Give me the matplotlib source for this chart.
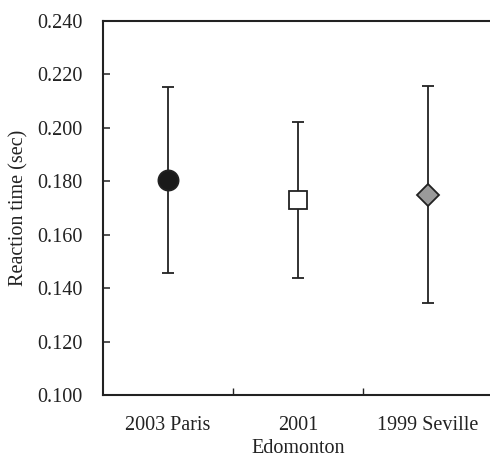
import matplotlib
matplotlib.use("Agg")
import matplotlib.pyplot as plt
from matplotlib.ticker import FixedLocator, FormatStrFormatter

plt.rcParams['font.family'] = ['Liberation Serif', 'DejaVu Serif']

# mean reaction time and spread per championship
events = ["2003 Paris", "2001\nEdomonton", "1999 Seville"]
mean_rt = [0.1805, 0.173, 0.175]
sd_rt = [0.0348, 0.0291, 0.0406]
markers = ["o", "s", "D"]
fills = ["#1a1a1a", "white", "#9a9a9a"]
sizes = [14.5, 13.5, 11]

fig = plt.figure(figsize=(4.9, 4.57), dpi=100)
ax = fig.add_axes([0.2102, 0.1357, 0.796, 0.8183])

for i in range(len(events)):
    ax.errorbar(i, mean_rt[i], yerr=sd_rt[i], fmt=markers[i], ms=sizes[i],
                mfc=fills[i], mec="#222222", mew=1.3, ecolor="#222222",
                elinewidth=1.3, capsize=4, capthick=1.3, zorder=3)

ax.set_xlim(-0.5, 2.5)
ax.set_ylim(0.100, 0.240)
ax.set_yticks([0.10 + 0.02 * k for k in range(8)])
ax.yaxis.set_major_formatter(FormatStrFormatter("%.3f"))
ax.set_xticks(range(len(events)))
ax.set_xticklabels(events, linespacing=1.3)
ax.xaxis.set_minor_locator(FixedLocator([0.5, 1.5]))

ax.tick_params(axis="y", direction="in", length=5, width=1.1, pad=15,
               labelsize=14.5, colors="#222222")
ax.tick_params(axis="x", which="major", length=0, pad=15, labelsize=14.5,
               colors="#222222")
ax.tick_params(axis="x", which="minor", direction="in", length=5, width=1.0,
               colors="#222222")

for side in ["left", "bottom", "top"]:
    ax.spines[side].set_linewidth(1.5)
    ax.spines[side].set_color("#222222")
ax.spines["right"].set_visible(False)

ax.set_ylabel("Reaction time (sec)", fontsize=14.5, color="#222222", labelpad=6)

fig.savefig("out.png", dpi=100)
